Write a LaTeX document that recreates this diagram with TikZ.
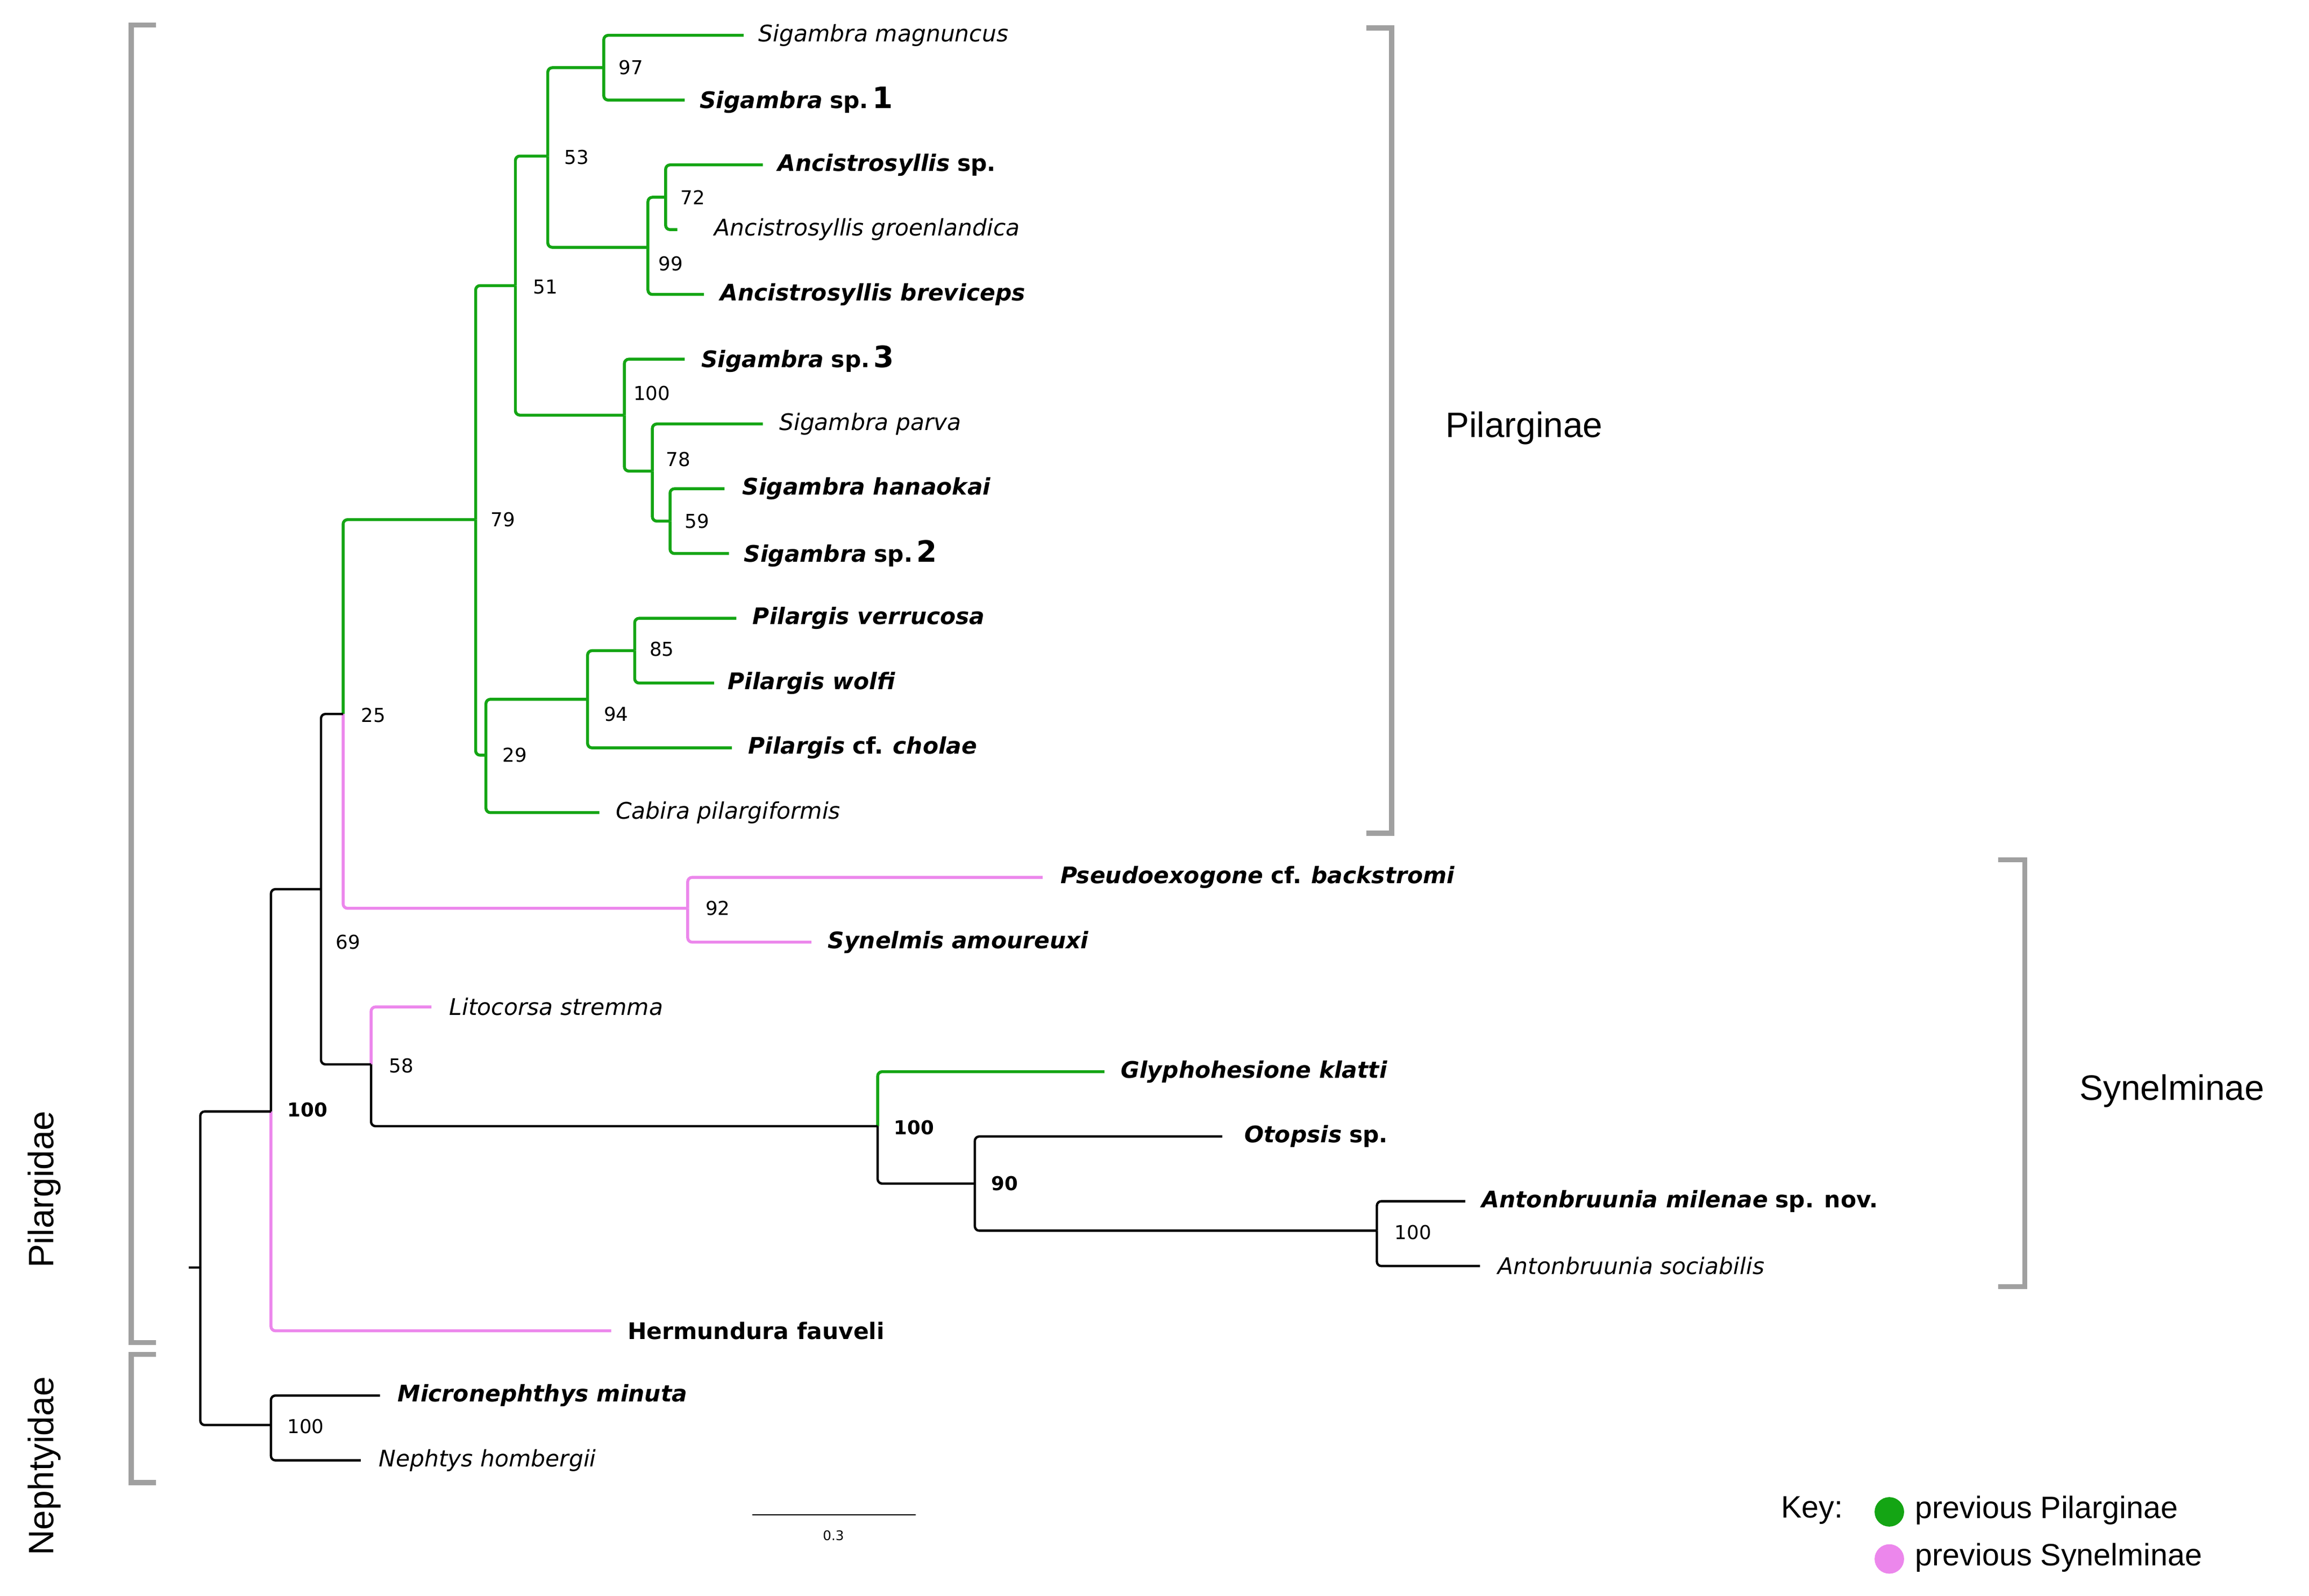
\documentclass[tikz,border=0pt]{standalone}
\usepackage{fontspec}
\setmainfont{DejaVu Sans}
\newfontfamily\hel{Liberation Sans}
\definecolor{gr}{RGB}{20,165,20}
\definecolor{pk}{RGB}{236,135,236}
\definecolor{br}{RGB}{160,160,160}
\newcommand\bi[1]{\textbf{\textit{#1}}}
\newcommand\bignum[1]{{\fontsize{20}{20}\selectfont\textbf{#1}}}
\begin{document}
\begin{tikzpicture}[x=1pt,y=-1pt,
  e/.style={line width=2pt,rounded corners=3pt},
  tx/.style={anchor=west,font=\fontsize{15.5}{16}\selectfont,inner sep=0pt},
  sp/.style={anchor=west,font=\fontsize{13}{14}\selectfont,inner sep=0pt},
  bk/.style={draw=br,line width=3.5pt},
  lb/.style={font=\hel\fontsize{24}{26}\selectfont}]
\useasboundingbox (0,0) rectangle (1568,1084);
% internal nodes
\coordinate (A) at (410,46); \coordinate (B) at (452,134); \coordinate (C) at (440,168);
\coordinate (D) at (372,106); \coordinate (E) at (455,354); \coordinate (F) at (443,320);
\coordinate (G) at (424,282); \coordinate (H) at (350,194); \coordinate (I) at (431,442);
\coordinate (J) at (399,475); \coordinate (K) at (330,513); \coordinate (L) at (323,353);
\coordinate (M) at (233,485); \coordinate (N) at (467,617); \coordinate (O) at (252,723);
\coordinate (P) at (596,765); \coordinate (Q) at (662,804); \coordinate (R) at (935,836);
\coordinate (S) at (218,604); \coordinate (T) at (184,755); \coordinate (U) at (184,968);
\coordinate (root) at (136,861); \coordinate (stub) at (128,861);
% tips
\coordinate (t1) at (505,24); \coordinate (t2) at (465,68); \coordinate (t3) at (518,112);
\coordinate (t4) at (460,156); \coordinate (t5) at (478,200); \coordinate (t6) at (465,244);
\coordinate (t7) at (518,288); \coordinate (t8) at (492,332); \coordinate (t9) at (495,376);
\coordinate (t10) at (500,420); \coordinate (t11) at (485,464); \coordinate (t12) at (497,508);
\coordinate (t13) at (407,552); \coordinate (t14) at (708,596); \coordinate (t15) at (551,640);
\coordinate (t16) at (293,684); \coordinate (t17) at (750,728); \coordinate (t18) at (830,772);
\coordinate (t19) at (995,816); \coordinate (t20) at (1005,860); \coordinate (t21) at (415,904);
\coordinate (t22) at (258,948); \coordinate (t23) at (245,992);
% branches
\begin{scope}[e,draw=gr]
\draw (A)|-(t1); \draw (A)|-(t2); \draw (B)|-(t3); \draw (B)|-(t4);
\draw (C)|-(B); \draw (C)|-(t5); \draw (D)|-(A); \draw (D)|-(C);
\draw (E)|-(t8); \draw (E)|-(t9); \draw (F)|-(t7); \draw (F)|-(E);
\draw (G)|-(t6); \draw (G)|-(F); \draw (H)|-(D); \draw (H)|-(G);
\draw (I)|-(t10); \draw (I)|-(t11); \draw (J)|-(I); \draw (J)|-(t12);
\draw (K)|-(J); \draw (K)|-(t13); \draw (L)|-(H); \draw (L)|-(K);
\draw (M)|-(L); \draw (P)|-(t17);
\end{scope}
\begin{scope}[e,draw=pk]
\draw (M)|-(N); \draw (N)|-(t14); \draw (N)|-(t15); \draw (O)|-(t16); \draw (T)|-(t21);
\end{scope}
\begin{scope}[e,draw=black,line width=1.6pt]
\draw (S)|-(M); \draw (S)|-(O); \draw (O)|-(P); \draw (P)|-(Q);
\draw (Q)|-(t18); \draw (Q)|-(R); \draw (R)|-(t19); \draw (R)|-(t20);
\draw (T)|-(S); \draw (U)|-(t22); \draw (U)|-(t23);
\draw (root)|-(T); \draw (root)|-(U); \draw (stub)--(root);
\end{scope}
% support values
\foreach \xx/\yy/\v in {420/46/97, 462/134/72, 447/179/99, 383/107/53, 362/195/51, 430/267/100,
  452/312/78, 465/354/59, 333/353/79, 441/441/85, 410/485/94, 341/513/29, 245/486/25,
  479/617/92, 228/640/69, 264/724/58, 947/837/100, 195/969/100}
  {\node[sp] at (\xx,\yy) {\v};}
\node[sp,font=\bfseries\fontsize{13}{14}\selectfont] at (607,766) {100};
\node[sp,font=\bfseries\fontsize{13}{14}\selectfont] at (673,804) {90};
\node[sp,font=\bfseries\fontsize{13}{14}\selectfont] at (195,754) {100};
% tip labels
\node[tx] (n1) at (515,24) {\textit{Sigambra magnuncus}};
\node[tx] (n2) at (475,68) {\bi{Sigambra} \textbf{sp.}\,\bignum{1}};
\node[tx] (n3) at (528,112) {\bi{Ancistrosyllis} \textbf{sp.}};
\node[tx] (n4) at (485,156) {\textit{Ancistrosyllis groenlandica}};
\node[tx] (n5) at (489,200) {\bi{Ancistrosyllis breviceps}};
\node[tx] (n6) at (476,244) {\bi{Sigambra} \textbf{sp.}\,\bignum{3}};
\node[tx] (n7) at (529,288) {\textit{Sigambra parva}};
\node[tx] (n8) at (504,332) {\bi{Sigambra hanaokai}};
\node[tx] (n9) at (505,376) {\bi{Sigambra} \textbf{sp.}\,\bignum{2}};
\node[tx] (n10) at (511,420) {\bi{Pilargis verrucosa}};
\node[tx] (n11) at (494,464) {\bi{Pilargis wolfi}};
\node[tx] (n12) at (508,508) {\bi{Pilargis} \textbf{cf.} \bi{cholae}};
\node[tx] (n13) at (418,552) {\textit{Cabira pilargiformis}};
\node[tx] (n14) at (720,596) {\bi{Pseudoexogone} \textbf{cf.} \bi{backstromi}};
\node[tx] (n15) at (562,640) {\bi{Synelmis amoureuxi}};
\node[tx] (n16) at (305,684) {\textit{Litocorsa stremma}};
\node[tx] (n17) at (761,728) {\bi{Glyphohesione klatti}};
\node[tx] (n18) at (845,772) {\bi{Otopsis} \textbf{sp.}};
\node[tx] (n19) at (1006,816) {\bi{Antonbruunia milenae} \textbf{sp. nov.}};
\node[tx] (n20) at (1017,860) {\textit{Antonbruunia sociabilis}};
\node[tx] (n21) at (426,904) {\textbf{Hermundura fauveli}};
\node[tx] (n22) at (270,948) {\bi{Micronephthys minuta}};
\node[tx] (n23) at (257,992) {\textit{Nephtys hombergii}};
% brackets
\draw[bk] (928,19) -- (945,19) -- (945,566) -- (928,566);
\draw[bk] (1357,584) -- (1375,584) -- (1375,874) -- (1357,874);
\draw[bk] (106,17) -- (89,17) -- (89,912) -- (106,912);
\draw[bk] (106,920) -- (89,920) -- (89,1007) -- (106,1007);
\node[lb] (pil) at (1035,291) {Pilarginae};
\node[lb] (syn) at (1475,741) {Synelminae};
\node[lb,rotate=90] (pid) at (30,808) {Pilargidae};
\node[lb,rotate=90] (nep) at (30,996) {Nephtyidae};
% scale bar
\coordinate (s1) at (511,1029); \coordinate (s2) at (622,1029);
\draw[line width=1pt] (s1) -- (s2);
\node[font=\fontsize{9}{10}\selectfont] (sv) at (566,1043) {0.3};
% key
\node[anchor=west,font=\hel\fontsize{21}{22}\selectfont] (key) at (1206,1026) {Key:};
\fill[gr] (1283,1027) circle (10);
\fill[pk] (1283,1059) circle (10);
\node[anchor=west,font=\hel\fontsize{21}{22}\selectfont] (k1) at (1297,1026) {previous Pilarginae};
\node[anchor=west,font=\hel\fontsize{21}{22}\selectfont] (k2) at (1297,1058) {previous Synelminae};
\end{tikzpicture}
\end{document}
